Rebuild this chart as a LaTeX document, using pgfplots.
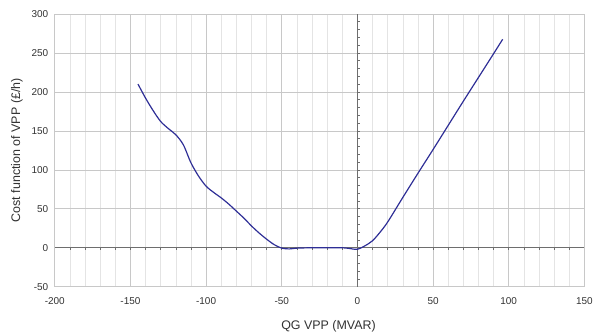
\documentclass[border=0pt]{standalone}
\usepackage{pgfplots}
\pgfplotsset{compat=1.18}
\usepackage{fontspec}
\setmainfont{Liberation Sans}
\definecolor{curve}{RGB}{46,46,150}
\definecolor{majgrid}{RGB}{200,200,200}
\definecolor{mingrid}{RGB}{228,228,228}
\definecolor{axline}{RGB}{110,110,110}
\definecolor{txt}{RGB}{50,50,50}
\begin{document}
\begin{tikzpicture}
\path (-55pt,-45pt) rectangle (541pt,288pt);
\begin{axis}[
  at={(0,0)}, anchor=south west,
  scale only axis,
  width=532pt, height=274pt,
  xmin=-200, xmax=150, ymin=-50, ymax=300,
  xtick={-200,-150,...,150},
  ytick={-50,0,...,300},
  minor xtick={-190,-180,...,140},
  grid=both,
  major grid style={majgrid, line width=0.6pt},
  minor grid style={mingrid, line width=0.6pt},
  axis line style={majgrid, line width=0.6pt},
  tick style={draw=none},
  tick label style={font=\fontsize{10}{12}\selectfont, text=txt},
  /pgf/number format/assume math mode=true,
  xticklabel style={yshift=-7pt},
  yticklabel style={xshift=-3pt},
  xlabel={QG VPP (MVAR)},
  ylabel={Cost function of VPP (£/h)},
  label style={font=\fontsize{12.5}{14}\selectfont, text=txt},
  xlabel style={yshift=-9pt, xshift=9pt},
  ylabel style={yshift=2pt},
  clip=false,
]
\draw[axline, line width=0.7pt] (axis cs:-200,0) -- (axis cs:150,0);
\draw[axline, line width=0.7pt] (axis cs:0,-50) -- (axis cs:0,300);
\pgfplotsinvokeforeach{-190,-180,...,140}{\draw[axline, line width=0.6pt] (axis cs:#1,0) -- (axis cs:#1,-3.5);}
\pgfplotsinvokeforeach{-40,-30,...,290}{\draw[axline, line width=0.6pt] (axis cs:0,#1) -- (axis cs:2,#1);}
\addplot[curve, line width=1.2pt, smooth, tension=0.5] coordinates {
(-145,210) (-140,192) (-135,176) (-130,162) (-125,153) (-120,145) (-115,132)
(-110,109) (-105,92) (-100,79) (-95,71) (-90,64) (-85,56) (-80,47) (-75,38)
(-70,28) (-65,19) (-60,11) (-55,4) (-50,-0.5) (-45,-1.5) (-40,-0.5) (-30,0)
(-20,0) (-10,0) (-5,-1) (0,-2) (5,2.5) (10,9) (15,20) (20,33) (30,64.5) (40,95.5)
(50,126) (60,157) (70,188) (80,218.5) (90,249) (96,267.5)
};
\end{axis}
\end{tikzpicture}
\end{document}
